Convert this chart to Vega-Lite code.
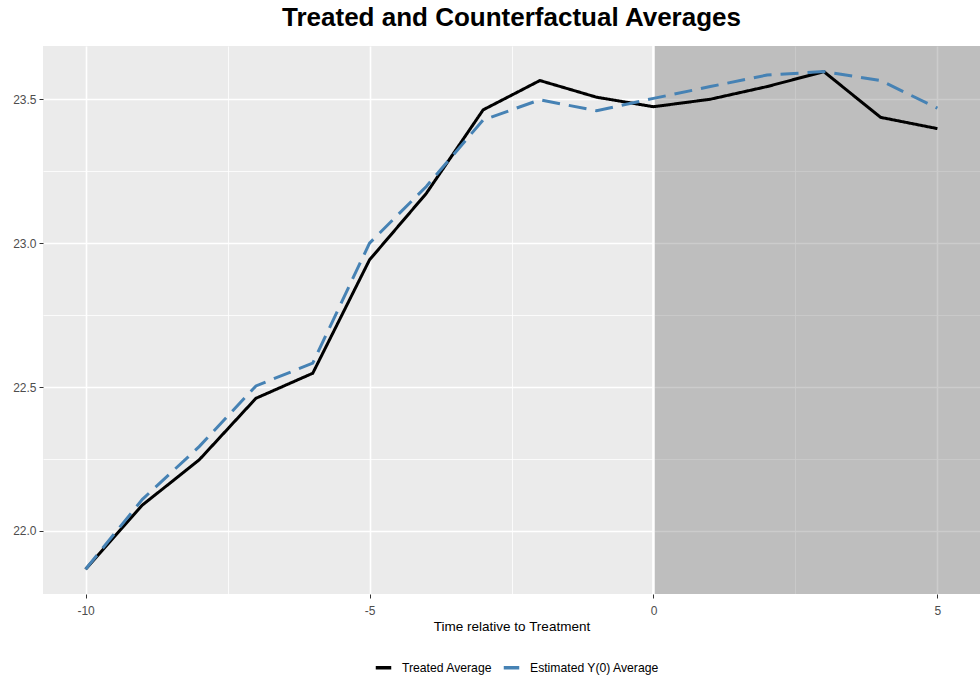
{
  "$schema": "https://vega.github.io/schema/vega-lite/v6.json",
  "autosize": {"type": "none"},
  "padding": {"left": 43, "top": 46, "right": 0, "bottom": 88},
  "width": 937,
  "height": 548,
  "background": "white",
  "title": {
    "text": "Treated and Counterfactual Averages",
    "font": "Liberation Sans",
    "fontSize": 26,
    "fontWeight": "bold",
    "color": "black",
    "anchor": "middle",
    "offset": 14
  },
  "config": {
    "font": "Liberation Sans",
    "view": {"fill": "#ebebeb", "stroke": null},
    "axis": {
      "domain": false,
      "grid": true,
      "gridColor": "white",
      "labelColor": "#4d4d4d",
      "labelFontSize": 12,
      "tickColor": "#333333",
      "tickSize": 4,
      "titleColor": "black",
      "titleFontWeight": "normal",
      "titleFontSize": 13.5
    }
  },
  "data": {"values": [{"shade": "post-treatment"}]},
  "datasets": {
    "series": [
      {"time": -10, "value": 21.867, "series": "Treated Average"},
      {"time": -9, "value": 22.09, "series": "Treated Average"},
      {"time": -8, "value": 22.247, "series": "Treated Average"},
      {"time": -7, "value": 22.461, "series": "Treated Average"},
      {"time": -6, "value": 22.548, "series": "Treated Average"},
      {"time": -5, "value": 22.942, "series": "Treated Average"},
      {"time": -4, "value": 23.173, "series": "Treated Average"},
      {"time": -3, "value": 23.463, "series": "Treated Average"},
      {"time": -2, "value": 23.565, "series": "Treated Average"},
      {"time": -1, "value": 23.507, "series": "Treated Average"},
      {"time": 0, "value": 23.474, "series": "Treated Average"},
      {"time": 1, "value": 23.5, "series": "Treated Average"},
      {"time": 2, "value": 23.544, "series": "Treated Average"},
      {"time": 3, "value": 23.596, "series": "Treated Average"},
      {"time": 4, "value": 23.437, "series": "Treated Average"},
      {"time": 5, "value": 23.398, "series": "Treated Average"},
      {"time": -10, "value": 21.867, "series": "Estimated Y(0) Average"},
      {"time": -9, "value": 22.11, "series": "Estimated Y(0) Average"},
      {"time": -8, "value": 22.293, "series": "Estimated Y(0) Average"},
      {"time": -7, "value": 22.504, "series": "Estimated Y(0) Average"},
      {"time": -6, "value": 22.583, "series": "Estimated Y(0) Average"},
      {"time": -5, "value": 23.0, "series": "Estimated Y(0) Average"},
      {"time": -4, "value": 23.197, "series": "Estimated Y(0) Average"},
      {"time": -3, "value": 23.428, "series": "Estimated Y(0) Average"},
      {"time": -2, "value": 23.498, "series": "Estimated Y(0) Average"},
      {"time": -1, "value": 23.46, "series": "Estimated Y(0) Average"},
      {"time": 0, "value": 23.503, "series": "Estimated Y(0) Average"},
      {"time": 1, "value": 23.544, "series": "Estimated Y(0) Average"},
      {"time": 2, "value": 23.584, "series": "Estimated Y(0) Average"},
      {"time": 3, "value": 23.596, "series": "Estimated Y(0) Average"},
      {"time": 4, "value": 23.565, "series": "Estimated Y(0) Average"},
      {"time": 5, "value": 23.469, "series": "Estimated Y(0) Average"}
    ]
  },
  "layer": [
    {
      "mark": {"type": "rect", "fill": "#555555", "opacity": 0.3, "clip": true},
      "encoding": {
        "x": {
          "datum": 0,
          "type": "quantitative",
          "scale": {"domain": [-10.75, 5.75], "nice": false, "zero": false},
          "axis": {
            "grid": true,
            "values": [-10, -7.5, -5, -2.5, 0, 2.5, 5],
            "labelExpr": "datum.value % 5 === 0 ? toString(datum.value) : ''",
            "tickOpacity": {"condition": {"test": "datum.value % 5 === 0", "value": 1}, "value": 0},
            "gridWidth": {"condition": {"test": "datum.value % 5 === 0", "value": 1.6}, "value": 0.8},
            "title": "Time relative to Treatment",
            "labelPadding": 7,
            "titlePadding": 3
          }
        },
        "x2": {"datum": 7},
        "y": {
          "datum": 21.0,
          "type": "quantitative",
          "scale": {"domain": [21.781, 23.685], "nice": false, "zero": false},
          "axis": {
            "grid": true,
            "values": [22, 22.25, 22.5, 22.75, 23, 23.25, 23.5],
            "labelExpr": "datum.value % 0.5 === 0 ? format(datum.value, '.1f') : ''",
            "tickOpacity": {"condition": {"test": "datum.value % 0.5 === 0", "value": 1}, "value": 0},
            "gridWidth": {"condition": {"test": "datum.value % 0.5 === 0", "value": 1.6}, "value": 0.8},
            "title": null,
            "labelPadding": 3
          }
        },
        "y2": {"datum": 24.5}
      }
    },
    {
      "mark": {"type": "rule", "color": "white", "strokeWidth": 2.5},
      "encoding": {"x": {"datum": 0, "type": "quantitative"}}
    },
    {
      "data": {"name": "series"},
      "mark": {"type": "line", "strokeWidth": 3, "strokeCap": "butt", "strokeJoin": "miter"},
      "encoding": {
        "x": {"field": "time", "type": "quantitative"},
        "y": {"field": "value", "type": "quantitative"},
        "color": {
          "field": "series",
          "type": "nominal",
          "scale": {"domain": ["Treated Average", "Estimated Y(0) Average"], "range": ["black", "#4682b4"]},
          "legend": {
            "title": null,
            "orient": "none",
            "direction": "horizontal",
            "legendX": 331,
            "legendY": 612,
            "symbolType": "stroke",
            "symbolStrokeWidth": 3.5,
            "symbolSize": 240,
            "labelFontSize": 12.2,
            "labelColor": "black",
            "columnPadding": 3,
            "labelOffset": 9
          }
        },
        "strokeDash": {
          "field": "series",
          "type": "nominal",
          "scale": {"domain": ["Treated Average", "Estimated Y(0) Average"], "range": [[1, 0], [18, 9]]},
          "legend": null
        },
        "order": {"field": "series", "sort": "descending"}
      }
    }
  ]
}
